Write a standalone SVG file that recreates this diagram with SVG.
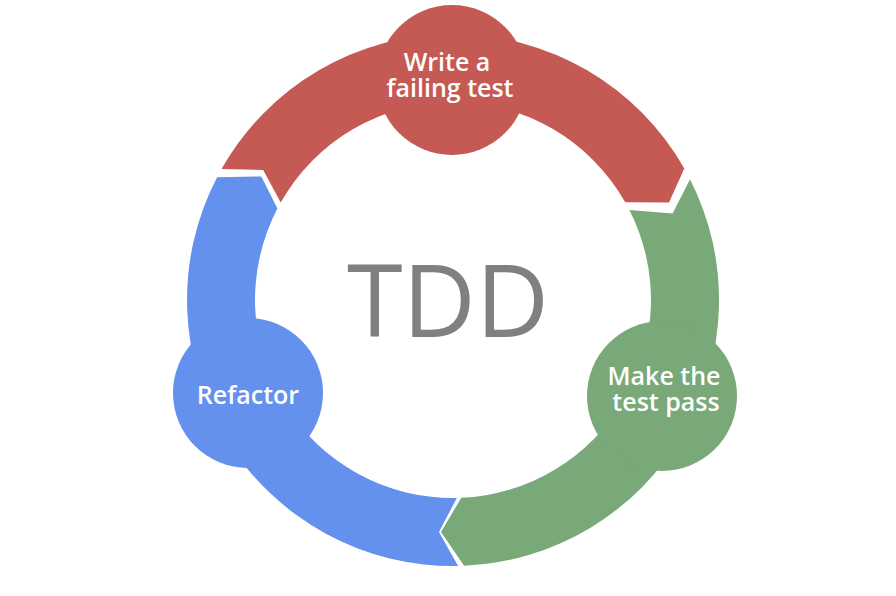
<svg xmlns="http://www.w3.org/2000/svg" width="896" height="596" viewBox="0 0 896 596">
<style>
.lbl{font-family:"Open Sans","Noto Sans","Liberation Sans",sans-serif;font-weight:600;font-size:25px;fill:#ffffff;text-anchor:middle}
.title{font-family:"Open Sans","Noto Sans","Liberation Sans",sans-serif;font-weight:400;font-size:101px;fill:#808080;text-anchor:middle}
.red{fill:#C55A55}
.green{fill:#79A979}
.blue{fill:#6490EE}
</style>
<rect width="896" height="596" fill="#ffffff"/>
<g id="connectors">
<path id="arc-red" class="red" d="M 221.5,169.0 A 266 266 0 0 1 684.3,168.6 L 669,202.5 L 625.2,202.2 A 198 198 0 0 0 280.7,202.5 L 263.2,170.0 Z"/>
<path id="arc-green" class="green" d="M 690.0,179.2 A 266 266 0 0 1 464.1,565.8 L 441,532 L 461.3,497.8 A 198 198 0 0 0 629.4,210.1 L 672.6,213.5 Z"/>
<path id="arc-blue" class="blue" d="M 458.1,566.0 A 266 266 0 0 1 217.1,177.2 L 261.3,176.5 L 277.4,208.6 A 198 198 0 0 0 456.8,498.0 L 439,532 Z"/>
</g>
<g id="node-write">
<circle class="red" cx="452" cy="80" r="75"/>
<text class="lbl" x="447" y="71">Write a</text>
<text class="lbl" x="450" y="97">failing test</text>
</g>
<g id="node-pass">
<circle class="green" cx="662" cy="396" r="75"/>
<text class="lbl" x="664" y="385">Make the</text>
<text class="lbl" x="666" y="411">test pass</text>
</g>
<g id="node-refactor">
<circle class="blue" cx="248" cy="393" r="75"/>
<text class="lbl" x="248" y="404">Refactor</text>
</g>
<g id="center">
<text class="title" x="448" y="337">TDD</text>
</g>
</svg>
